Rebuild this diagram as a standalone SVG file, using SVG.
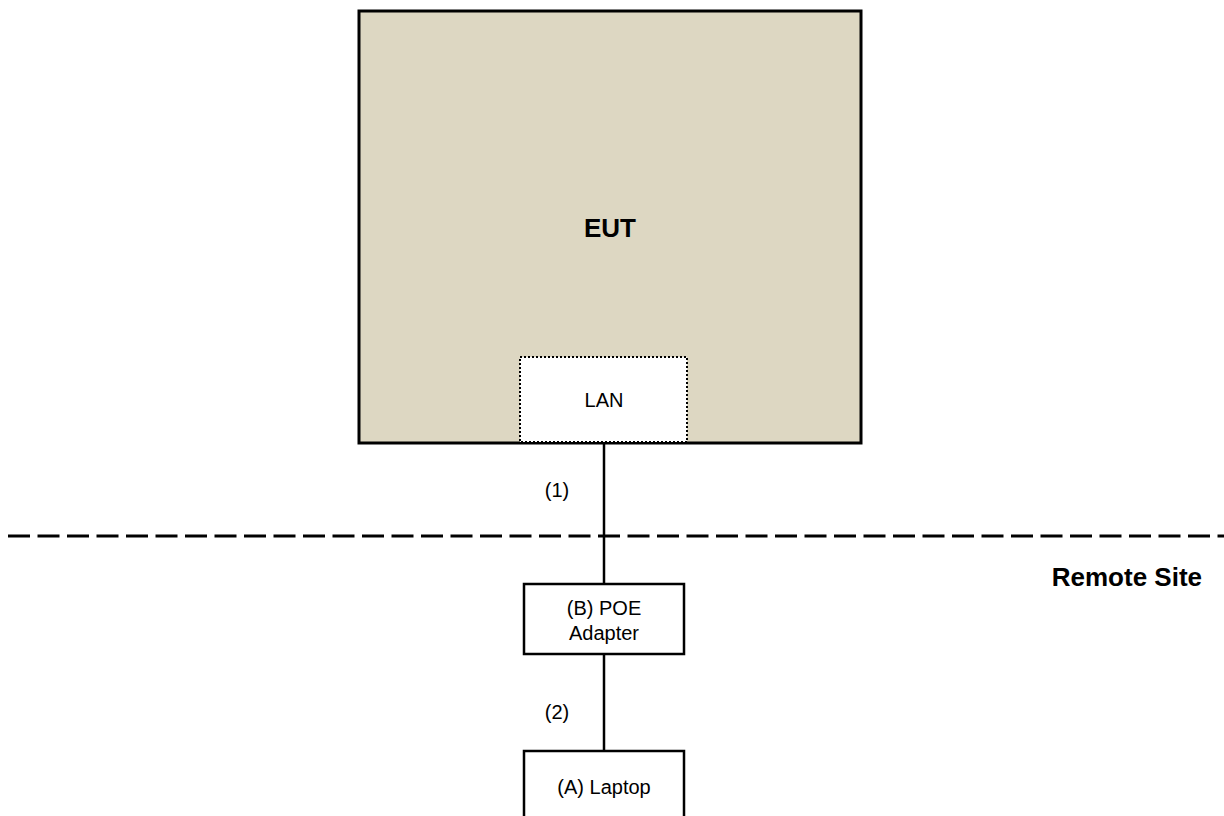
<svg xmlns="http://www.w3.org/2000/svg" width="1224" height="816" viewBox="0 0 1224 816">
<style>
.box{fill:#fff;stroke:#000;stroke-width:2.5}
.t{font-family:"Liberation Sans",Arial,sans-serif;font-size:20px;fill:#000;text-anchor:middle}
.b{font-weight:bold;font-size:26px}
.ln{stroke:#000;stroke-width:2.5;fill:none}
</style>
<rect width="1224" height="816" fill="#fff"/>
<g id="boundary">
<line x1="8" y1="536" x2="1224" y2="536" stroke="#000" stroke-width="3" stroke-dasharray="22 7.5"/>
<text class="t b" x="1202" y="586" style="text-anchor:end">Remote Site</text>
</g>
<g id="connectors">
<line class="ln" x1="604" y1="443" x2="604" y2="584"/>
<line class="ln" x1="604" y1="654" x2="604" y2="751"/>
<text class="t" x="557" y="497">(1)</text>
<text class="t" x="557" y="719">(2)</text>
</g>
<g id="eut">
<rect x="359" y="11" width="502" height="432" fill="#DDD7C2" stroke="#000" stroke-width="3"/>
<text class="t b" x="610" y="237">EUT</text>
</g>
<g id="lan">
<rect x="520" y="357" width="167" height="85" fill="#fff" stroke="#000" stroke-width="2" stroke-dasharray="2 2"/>
<text class="t" x="604" y="407">LAN</text>
</g>
<g id="poe">
<rect class="box" x="524" y="584" width="160" height="70"/>
<text class="t" x="604" y="615">(B) POE</text>
<text class="t" x="604" y="640">Adapter</text>
</g>
<g id="laptop">
<rect class="box" x="524" y="751" width="160" height="80"/>
<text class="t" x="604" y="794">(A) Laptop</text>
</g>
</svg>
